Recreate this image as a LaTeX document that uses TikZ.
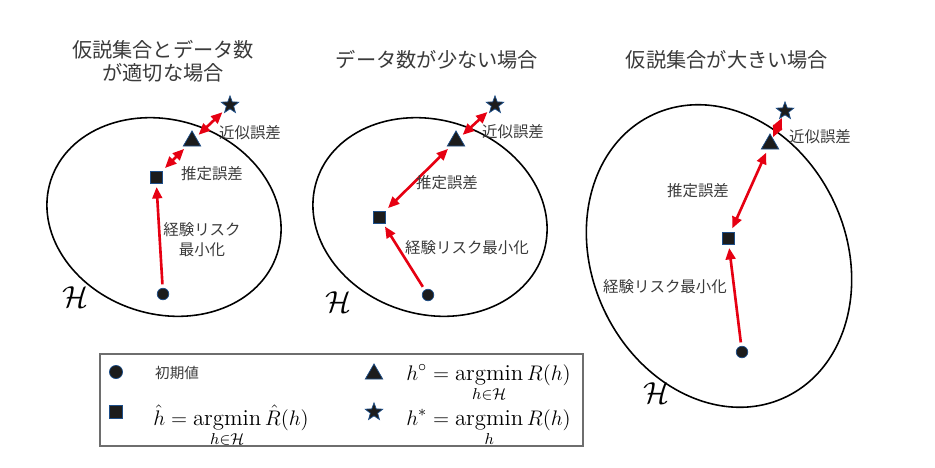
\documentclass[tikz,border=0pt]{standalone}
\usepackage{fontspec,amsmath}
\usetikzlibrary{arrows.meta,shapes.geometric}
\newfontfamily\jpf{Noto Sans CJK JP}
\definecolor{red1}{HTML}{E60012}
\definecolor{txt}{HTML}{3A3A3A}
\definecolor{mk}{HTML}{1C1C1C}
\definecolor{rim}{HTML}{1D4E89}
\definecolor{frm}{HTML}{6E6E6E}
\tikzset{
  ttl/.style={font=\jpf\fontsize{11.5}{13.2}\selectfont,text=txt,align=center},
  lbl/.style={font=\jpf\fontsize{8.8}{11.3}\selectfont,text=txt,align=center},
  hset/.style={font=\fontsize{17}{20}\selectfont},
  dot/.style={circle,fill=mk,draw=rim,line width=0.4pt,inner sep=0pt,minimum size=6.6pt},
  sqr/.style={rectangle,fill=mk,draw=rim,line width=0.4pt,inner sep=0pt,minimum size=7pt},
  tri/.style={regular polygon,regular polygon sides=3,fill=mk,draw=rim,line width=0.4pt,inner sep=0pt,minimum size=11.5pt},
  str/.style={star,star points=5,star point ratio=2.4,fill=mk,draw=rim,line width=0.4pt,inner sep=0pt,minimum size=10.5pt},
  ar/.style={-{Triangle[length=6.5pt,width=5.5pt]},line width=1.5pt,draw=red1,shorten >=2pt,shorten <=2pt},
  dar/.style={ar,{Triangle[length=6.5pt,width=5.5pt]}-{Triangle[length=6.5pt,width=5.5pt]}},
  hull/.style={draw=black,line width=0.9pt},
  mth/.style={font=\fontsize{13}{15.6}\selectfont,inner sep=0pt},
  small/.style={font=\jpf\fontsize{8.3}{10}\selectfont,text=txt},
}

\begin{document}
\begin{tikzpicture}[x=0.02cm,y=-0.02cm]
\useasboundingbox (0,0) rectangle (935,467);

\node[ttl] (ttl1) at (163,61) {仮説集合とデータ数\\が適切な場合};
\draw[hull,rotate around={-18:(164,217)}] (164,217) ellipse [x radius=119,y radius=97];
\node[hset] (H1) at (75,297) {$\mathcal{H}$};
\node[dot] (c1) at (163,294) {};
\node[sqr] (s1) at (156,177) {};
\node[tri] (t1) at (192,141) {};
\node[str] (st1) at (230,105) {};
\draw[ar] (c1)--(s1);
\draw[dar] (s1)--(t1);
\draw[dar] (t1)--(st1);
\node[lbl] (apx1) at (250,133) {近似誤差};
\node[lbl] (est1) at (212,174) {推定誤差};
\node[lbl] (erm1) at (202,240) {経験リスク\\最小化};

\node[ttl] (ttl2) at (437,60) {データ数が少ない場合};
\draw[hull,rotate around={-18:(430,217)}] (430,217) ellipse [x radius=119,y radius=97];
\node[hset] (H2) at (338,302) {$\mathcal{H}$};
\node[dot] (c2) at (428,295) {};
\node[sqr] (s2) at (379,217) {};
\node[tri] (t2) at (456,141) {};
\node[str] (st2) at (495,105) {};
\draw[ar] (c2)--(s2);
\draw[dar] (s2)--(t2);
\draw[dar] (t2)--(st2);
\node[lbl] (apx2) at (513,132) {近似誤差};
\node[lbl] (est2) at (447,183) {推定誤差};
\node[lbl] (erm2) at (467,248) {経験リスク最小化};

\node[ttl] (ttl3) at (727,60) {仮説集合が大きい場合};
\draw[hull,rotate around={25:(719,256)}] (719,256) ellipse [x radius=127,y radius=156];
\node[hset] (H3) at (656,393) {$\mathcal{H}$};
\node[dot] (c3) at (742,352) {};
\node[sqr] (s3) at (728,238) {};
\node[tri] (t3) at (770,144) {};
\node[str] (st3) at (785,111) {};
\draw[ar] (c3)--(s3);
\draw[dar] (s3)--(t3);
\draw[dar,shorten >=0.5pt,shorten <=0.5pt] (t3)--(st3);
\node[lbl] (apx3) at (820,137) {近似誤差};
\node[lbl] (est3) at (698,191) {推定誤差};
\node[lbl] (erm3) at (665,287) {経験リスク最小化};

\draw[frm,line width=0.9pt] (100,354) rectangle (583,446);
\node[dot,minimum size=7.5pt] (lc) at (116,372) {};
\node[small,anchor=west] (lcl) at (149,373) {初期値};
\node[sqr,minimum size=7.5pt] (ls) at (116,412) {};
\node[mth,anchor=base west] (lsl) at (153,425) {$\displaystyle \hat{h} = \operatorname*{argmin}_{h\in\mathcal{H}} \hat{R}(h)$};
\node[tri] (lt) at (374,374) {};
\node[mth,anchor=base west] (ltl) at (406,380) {$\displaystyle h^{\circ} = \operatorname*{argmin}_{h\in\mathcal{H}} R(h)$};
\node[str] (lst) at (374,412) {};
\node[mth,anchor=base west] (lstl) at (406,425) {$\displaystyle h^{*} = \operatorname*{argmin}_{h} R(h)$};
\end{tikzpicture}
\end{document}
